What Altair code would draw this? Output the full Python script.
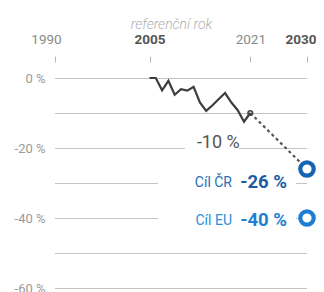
import altair as alt
import pandas as pd

# ---- data ----
years = list(range(2005, 2022))
values = [0, 0, -3.5, -0.8, -4.8, -3.2, -3.6, -2.5, -7.0, -9.4, -7.8, -6.0, -4.3, -7.0, -9.2, -12.5, -10.0]

proj_years = [2021, 2030]
proj_values = [-10.0, -26.0]

target_names = ["Cíl ČR", "Cíl EU"]
target_values = [-26, -40]
target_year = 2030

x_ticks = [1990, 2005, 2021, 2030]
y_grid = [0, -10, -20, -30, -40, -50, -60]
y_labels = [0, -20, -40, -60]

line_df = pd.DataFrame({"year": years, "value": values})
proj_df = pd.DataFrame({"year": proj_years, "value": proj_values})
grid_df = pd.DataFrame({"value": y_grid})
tgt_df = pd.DataFrame({"name": target_names, "value": target_values,
                       "year": [target_year] * 2,
                       "label": [f"{v} %" for v in target_values]})
last_df = pd.DataFrame({"year": [years[-1]], "value": [values[-1]],
                        "label": [f"{int(values[-1])} %"]})

FONT = "Roboto"
W, H = 252, 226

xs = alt.Scale(domain=[1990, 2030], nice=False, zero=False)
ys = alt.Scale(domain=[-60, 16 / 3.5], nice=False, zero=False)

bold_test = "datum.value == 2005 || datum.value == 2030"
x_axis = alt.Axis(
    orient="top", values=x_ticks, format="d", title=None, grid=False, domain=False,
    ticks=True, tickSize=6, tickColor="#b8b8b8", tickWidth=1, labelPadding=10,
    labelFontSize=13.5, labelFont=FONT,
    labelFlush=True, labelFlushOffset=9,
    labelAlign={"condition": {"test": "datum.value == 2030", "value": "right"}, "value": "center"},
    labelFontWeight={"condition": {"test": bold_test, "value": "bold"}, "value": "normal"},
    labelColor={"condition": {"test": bold_test, "value": "#555555"}, "value": "#8a8a8a"},
)
y_axis = alt.Axis(
    values=y_labels, title=None, grid=False,
    domain=False, ticks=False, labelPadding=10, labelFontSize=13, labelFont=FONT,
    labelColor="#9a9a9a",
    labelExpr="datum.value + ' %'",
)

X = alt.X("year:Q", scale=xs)
Y = alt.Y("value:Q", scale=ys)

grid = alt.Chart(grid_df).mark_rule(color="#c4c4c4", strokeWidth=1, yOffset=0.5).encode(
    y=alt.Y("value:Q", scale=ys, axis=y_axis))

line = alt.Chart(line_df).mark_line(color="#3d3d3d", strokeWidth=2.2, strokeJoin="miter").encode(
    x=alt.X("year:Q", scale=xs, axis=x_axis), y=Y)

proj = alt.Chart(proj_df).mark_line(color="#555555", strokeWidth=2.2, strokeDash=[3, 3]).encode(
    x=X, y=Y)

last_pt = alt.Chart(last_df).mark_point(color="#444444", size=22, filled=False,
                                        strokeWidth=1.5, opacity=1).encode(x=X, y=Y)

# white masks that break gridlines behind labels
mask1 = alt.Chart(last_df).mark_rect(color="white").encode(
    x=alt.value(130), x2=alt.value(184), y=alt.value(78), y2=alt.value(94))
mask2 = alt.Chart(last_df).mark_rect(color="white").encode(
    x=alt.value(103), x2=alt.value(241), y=alt.value(112), y2=alt.value(168))

last_lbl = alt.Chart(last_df).mark_text(
    font=FONT, fontSize=18, color="#555555", align="center", baseline="middle",
    dx=-32, dy=30).encode(x=X, y=Y, text="label:N")

circ_bg = alt.Chart(tgt_df).mark_circle(size=180, color="white", opacity=1).encode(x=X, y=Y)
circ_cr = alt.Chart(tgt_df.iloc[[0]]).mark_point(
    shape="circle", size=180, filled=False, strokeWidth=4.2, opacity=1,
    color="#1563b3").encode(x=X, y=Y)
circ_eu = alt.Chart(tgt_df.iloc[[1]]).mark_point(
    shape="circle", size=180, filled=False, strokeWidth=4.2, opacity=1,
    color="#1c7ed3").encode(x=X, y=Y)

cr_val = alt.Chart(tgt_df.iloc[[0]]).mark_text(
    font=FONT, fontSize=18.5, fontWeight="bold", color="#1b5ca3", align="right",
    baseline="middle", dx=-20, dy=13).encode(x=X, y=Y, text="label:N")
cr_name = alt.Chart(tgt_df.iloc[[0]]).mark_text(
    font=FONT, fontSize=14, color="#1f70b8", align="right",
    baseline="middle", dx=-75, dy=14).encode(x=X, y=Y, text="name:N")

eu_val = alt.Chart(tgt_df.iloc[[1]]).mark_text(
    font=FONT, fontSize=18.5, fontWeight="bold", color="#1e80d2", align="right",
    baseline="middle", dx=-20, dy=2).encode(x=X, y=Y, text="label:N")
eu_name = alt.Chart(tgt_df.iloc[[1]]).mark_text(
    font=FONT, fontSize=14, color="#2a8fd8", align="right",
    baseline="middle", dx=-75, dy=3).encode(x=X, y=Y, text="name:N")

ref_lbl = alt.Chart(pd.DataFrame({"year": [2005], "t": ["referenční rok"]})).mark_text(
    font=FONT, fontSize=14, fontStyle="italic", fontWeight=300, color="#b0b0b0",
    align="center", baseline="middle", dx=22).encode(
    x=X, y=alt.value(-37), text="t:N")

chart = alt.layer(
    grid, mask1, mask2, proj, line, last_pt, last_lbl,
    circ_bg, circ_cr, circ_eu, cr_val, cr_name, eu_val, eu_name, ref_lbl
).properties(
    width=W, height=H,
    autosize=alt.AutoSizeParams(type="none"),
    padding={"left": 47, "top": 54, "right": 9, "bottom": 4},
).configure_view(stroke=None)

chart.save("out.html", embed_options={"renderer": "svg", "actions": False})
